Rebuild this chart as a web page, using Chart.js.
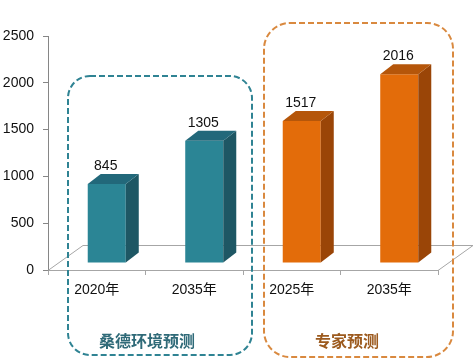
<!DOCTYPE html>
<html>
<head>
<meta charset="utf-8">
<script src="https://cdn.jsdelivr.net/npm/chart.js@4/dist/chart.umd.min.js"></script>
<style>
    html, body { margin: 0; padding: 0; background: #fff; }
    #wrap { width: 475px; height: 364px; position: relative; }
</style>
</head>
<body>
<div id="wrap"><canvas id="c" width="475" height="364"></canvas></div>
<script>
const labels = ['2020年', '2035年', '2025年', '2035年'];
const values = [845, 1305, 1517, 2016];
const groups = ['桑德环境预测', '桑德环境预测', '专家预测', '专家预测'];
const yTicks = [0, 500, 1000, 1500, 2000, 2500];

const palette = {
    '桑德环境预测': { front: '#2B8595', side: '#1E5764', top: '#22687A', box: '#2F8393', text: '#2F6A78' },
    '专家预测': { front: '#E36C0A', side: '#9A4507', top: '#B5560A', box: '#D9893F', text: '#9C5A1E' }
};

// 3d offsets: bar sits a bit back from the floor front edge, depth goes up-right
const SHIFT_X = 10, SHIFT_Y = -7;
const DEPTH_X = 13, DEPTH_Y = -10;

const threeD = {
    id: 'threeD',
    beforeDatasetsDraw(chart) {
        const { ctx, chartArea: a } = chart;
        // floor
        ctx.save();
        ctx.strokeStyle = '#A6A6A6';
        ctx.lineWidth = 1;
        ctx.beginPath();
        ctx.moveTo(a.left, a.bottom + 0.5);
        ctx.lineTo(a.left + 35, a.bottom - 24.5);
        ctx.lineTo(a.right + 35, a.bottom - 24.5);
        ctx.lineTo(a.right, a.bottom + 0.5);
        ctx.stroke();
        ctx.restore();
        // shift the front faces back onto the floor
        ctx.save();
        ctx.translate(SHIFT_X, SHIFT_Y);
    },
    afterDatasetsDraw(chart) {
        const { ctx } = chart;
        ctx.restore();
        const meta = chart.getDatasetMeta(0);
        meta.data.forEach((bar, i) => {
            const p = bar.getProps(['x', 'y', 'base', 'width'], true);
            const col = palette[groups[i]];
            const l = p.x - p.width / 2 + SHIFT_X;
            const r = p.x + p.width / 2 + SHIFT_X;
            const t = p.y + SHIFT_Y;
            const b = p.base + SHIFT_Y;
            ctx.fillStyle = col.side;
            ctx.beginPath();
            ctx.moveTo(r, t);
            ctx.lineTo(r + DEPTH_X, t + DEPTH_Y);
            ctx.lineTo(r + DEPTH_X, b + DEPTH_Y);
            ctx.lineTo(r, b);
            ctx.closePath();
            ctx.fill();
            ctx.fillStyle = col.top;
            ctx.beginPath();
            ctx.moveTo(l, t);
            ctx.lineTo(l + DEPTH_X, t + DEPTH_Y);
            ctx.lineTo(r + DEPTH_X, t + DEPTH_Y);
            ctx.lineTo(r, t);
            ctx.closePath();
            ctx.fill();
            // value label
            ctx.fillStyle = '#111';
            ctx.font = '14px "Liberation Sans", "DejaVu Sans", sans-serif';
            ctx.textAlign = 'center';
            ctx.textBaseline = 'bottom';
            ctx.fillText(String(values[i]), (l + r) / 2 - 1, t + DEPTH_Y - 1);
        });
    },
    afterDraw(chart) {
        const { ctx } = chart;
        const boxes = [
            { name: '桑德环境预测', x: 68, y: 76, w: 184, h: 279, r: 22, tx: 147 },
            { name: '专家预测', x: 264, y: 23, w: 189, h: 334, r: 26, tx: 347 }
        ];
        boxes.forEach(bx => {
            const col = palette[bx.name];
            ctx.save();
            ctx.strokeStyle = col.box;
            ctx.lineWidth = 2;
            ctx.setLineDash([6, 3]);
            ctx.beginPath();
            ctx.roundRect(bx.x, bx.y, bx.w, bx.h, bx.r);
            ctx.stroke();
            ctx.restore();
            ctx.fillStyle = col.text;
            ctx.font = 'bold 16px "Noto Sans CJK SC", sans-serif';
            ctx.textAlign = 'center';
            ctx.textBaseline = 'middle';
            ctx.fillText(bx.name, bx.tx, 341);
        });
    }
};

new Chart(document.getElementById('c'), {
    type: 'bar',
    data: {
        labels,
        datasets: [{
            data: values,
            backgroundColor: groups.map(g => palette[g].front),
            borderWidth: 0,
            barPercentage: 0.39,
            categoryPercentage: 1,
            clip: false
        }]
    },
    options: {
        responsive: false,
        animation: false,
        events: [],
        layout: { padding: { top: 36, right: 37, bottom: 64, left: 0 } },
        plugins: { legend: { display: false }, tooltip: { enabled: false } },
        scales: {
            x: {
                afterFit: s => { s.height = 30; },
                grid: { drawOnChartArea: false, offset: true, tickLength: 5, color: '#A6A6A6' },
                border: { color: '#A6A6A6' },
                ticks: { color: '#111', padding: 7, font: { size: 14, family: '"Liberation Sans", "Noto Sans CJK SC", sans-serif' } }
            },
            y: {
                min: 0, max: 2500,
                afterFit: s => { s.width = 48; },
                afterBuildTicks: s => { s.ticks = yTicks.map(v => ({ value: v })); },
                grid: { drawOnChartArea: false, tickLength: 5, color: '#868686' },
                border: { color: '#868686' },
                ticks: {
                    color: '#111', padding: 9,
                    font: { size: 14, family: '"Liberation Sans", sans-serif' },
                    callback: v => String(v)
                }
            }
        }
    },
    plugins: [threeD]
});
</script>
</body>
</html>
